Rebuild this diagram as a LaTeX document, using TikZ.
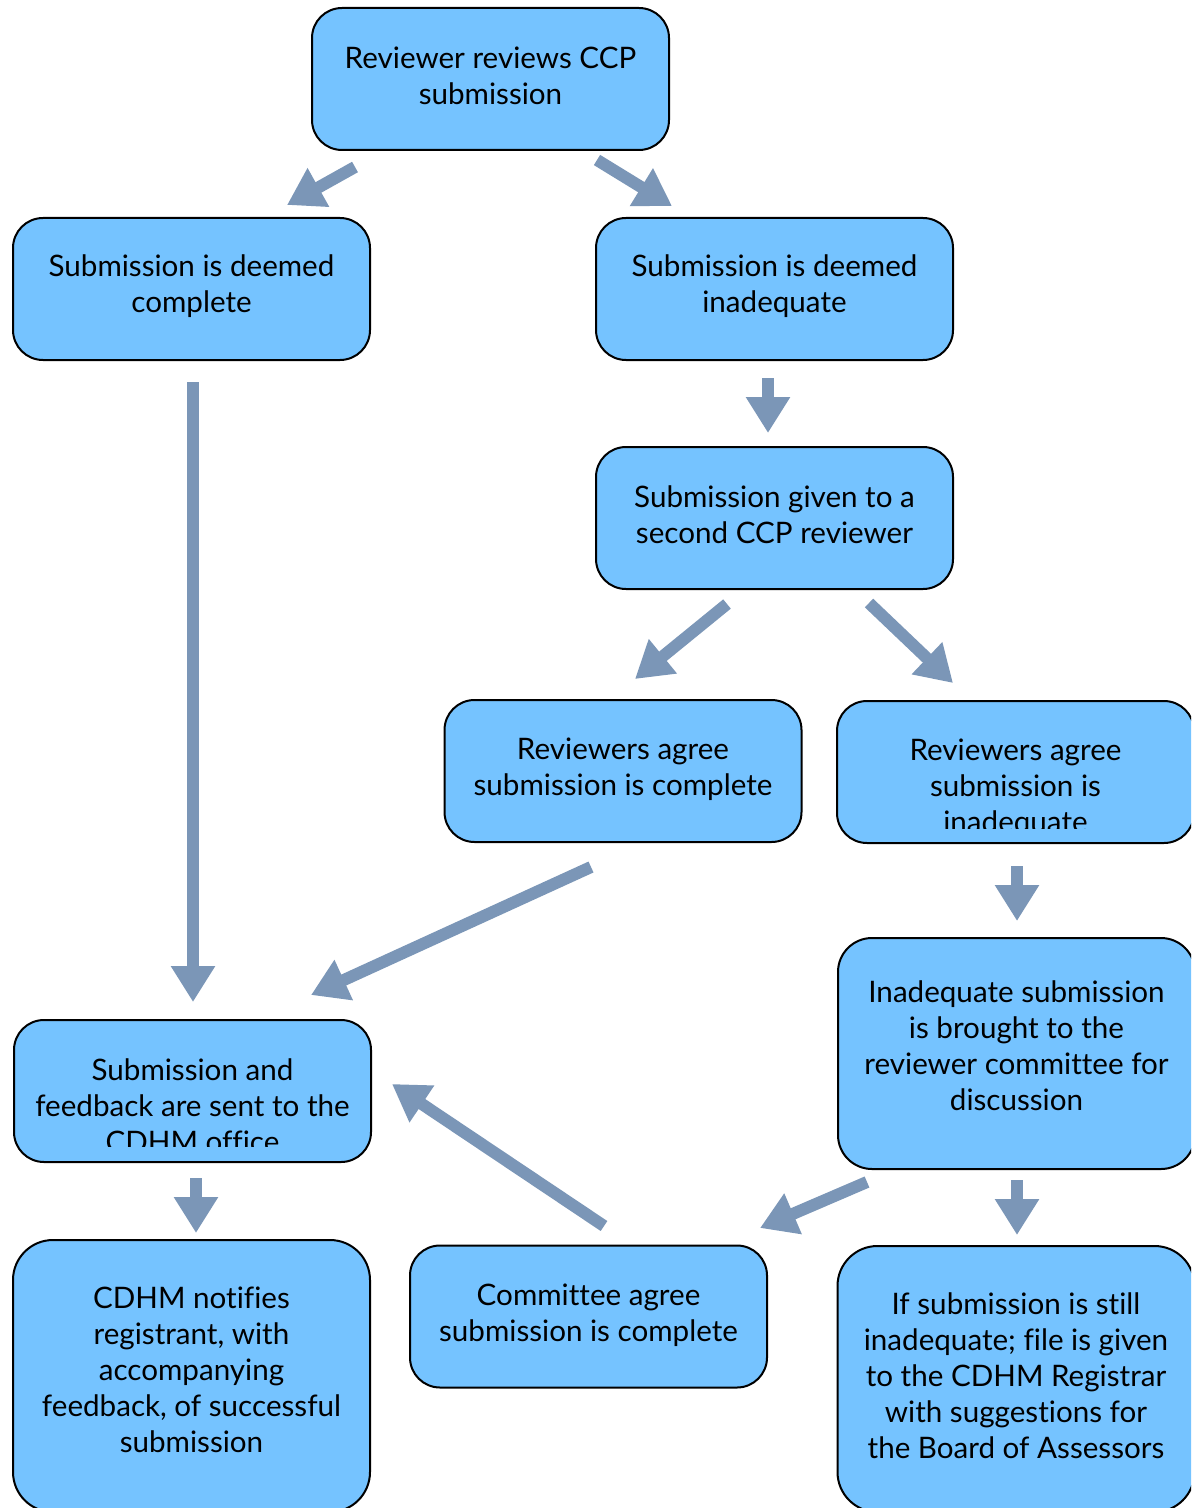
\documentclass[tikz,border=0pt]{standalone}
\usepackage{fontspec}
\setmainfont[Ligatures=NoCommon]{Lato}
\usetikzlibrary{arrows.meta}
\definecolor{boxblue}{RGB}{117,195,255}
\definecolor{arrowblue}{RGB}{123,150,183}
\begin{document}
\begin{tikzpicture}[x=0.5pt,y=-0.5pt,
  box/.style={draw=black, line width=1pt, fill=boxblue, rounded corners=15pt,
    minimum width=178.5pt, minimum height=71pt, inner sep=0pt},
  txt/.style={align=center, font=\fontsize{14.8pt}{18pt}\selectfont, inner sep=0pt},
  flow/.style={draw=arrowblue, line width=6pt,
    -{Triangle[width=21pt,length=18pt]}}]
\useasboundingbox (0,0) rectangle (1191,1508);
\clip (0,0) rectangle (1191,1508);
% boxes
\node[box] (top) at (490.5,79) {};
\node[txt] at (490.5,76) {Reviewer reviews CCP\\submission};
\node[box] (cmp) at (191.5,289) {};
\node[txt] at (191.5,286) {Submission is deemed\\complete};
\node[box] (inad) at (774.5,289) {};
\node[txt] at (774.5,286) {Submission is deemed\\inadequate};
\node[box] (sec) at (774.5,518) {};
\node[txt] at (774.5,515) {Submission given to a\\second CCP reviewer};
\node[box] (rac) at (623,771) {};
\node[txt] at (623,769) {Reviewers agree\\submission is complete};
\node[box] (rai) at (1015.5,772) {};
\begin{scope}
  \clip (837,701) rectangle (1195,828);
  \node[txt] at (1015.5,788) {Reviewers agree\\submission is\\inadequate};
\end{scope}
\node[box, rounded corners=17pt, minimum height=115.5pt] (isb) at (1016.5,1053.5) {};
\node[txt] at (1016.5,1046) {Inadequate submission\\is brought to the\\reviewer committee for\\discussion};
\node[box] (sf) at (192.5,1091) {};
\begin{scope}
  \clip (14,1020) rectangle (371,1146);
  \node[txt] at (192.5,1106) {Submission and\\feedback are sent to the\\CDHM office};
\end{scope}
\node[box, rounded corners=20pt, minimum height=136pt] (cdhm) at (191.5,1376) {};
\node[txt] at (191.5,1369.5) {CDHM notifies\\registrant, with\\accompanying\\feedback, of successful\\submission};
\node[box] (com) at (588.5,1316.5) {};
\node[txt] at (588.5,1315) {Committee agree\\submission is complete};
\node[box, rounded corners=20pt, minimum height=133pt] (still) at (1016,1379) {};
\node[txt] at (1016,1375.5) {If submission is still\\inadequate; file is given\\to the CDHM Registrar\\with suggestions for\\the Board of Assessors};
% arrow endpoints
\coordinate (a1s) at (355,167); \coordinate (a1e) at (287,205);
\coordinate (a2s) at (597,160); \coordinate (a2e) at (672,206);
\coordinate (a3s) at (768,378); \coordinate (a3e) at (768,433);
\coordinate (a4s) at (193,382); \coordinate (a4e) at (193,1002);
\coordinate (a5s) at (727,604); \coordinate (a5e) at (635,679);
\coordinate (a6s) at (869,603); \coordinate (a6e) at (953,683);
\coordinate (a7s) at (591,867); \coordinate (a7e) at (311,995);
\coordinate (a8s) at (1017,866); \coordinate (a8e) at (1017,921);
\coordinate (a9s) at (867,1182); \coordinate (a9e) at (760,1228);
\coordinate (a10s) at (1017,1180); \coordinate (a10e) at (1017,1235);
\coordinate (a11s) at (604,1226); \coordinate (a11e) at (392,1084);
\coordinate (a12s) at (196,1178); \coordinate (a12e) at (196,1233);
\draw[flow] (a1s) -- (a1e);
\draw[flow] (a2s) -- (a2e);
\draw[flow] (a3s) -- (a3e);
\draw[flow] (a4s) -- (a4e);
\draw[flow] (a5s) -- (a5e);
\draw[flow] (a6s) -- (a6e);
\draw[flow] (a7s) -- (a7e);
\draw[flow] (a8s) -- (a8e);
\draw[flow] (a9s) -- (a9e);
\draw[flow] (a10s) -- (a10e);
\draw[flow] (a11s) -- (a11e);
\draw[flow] (a12s) -- (a12e);
\end{tikzpicture}
\end{document}
